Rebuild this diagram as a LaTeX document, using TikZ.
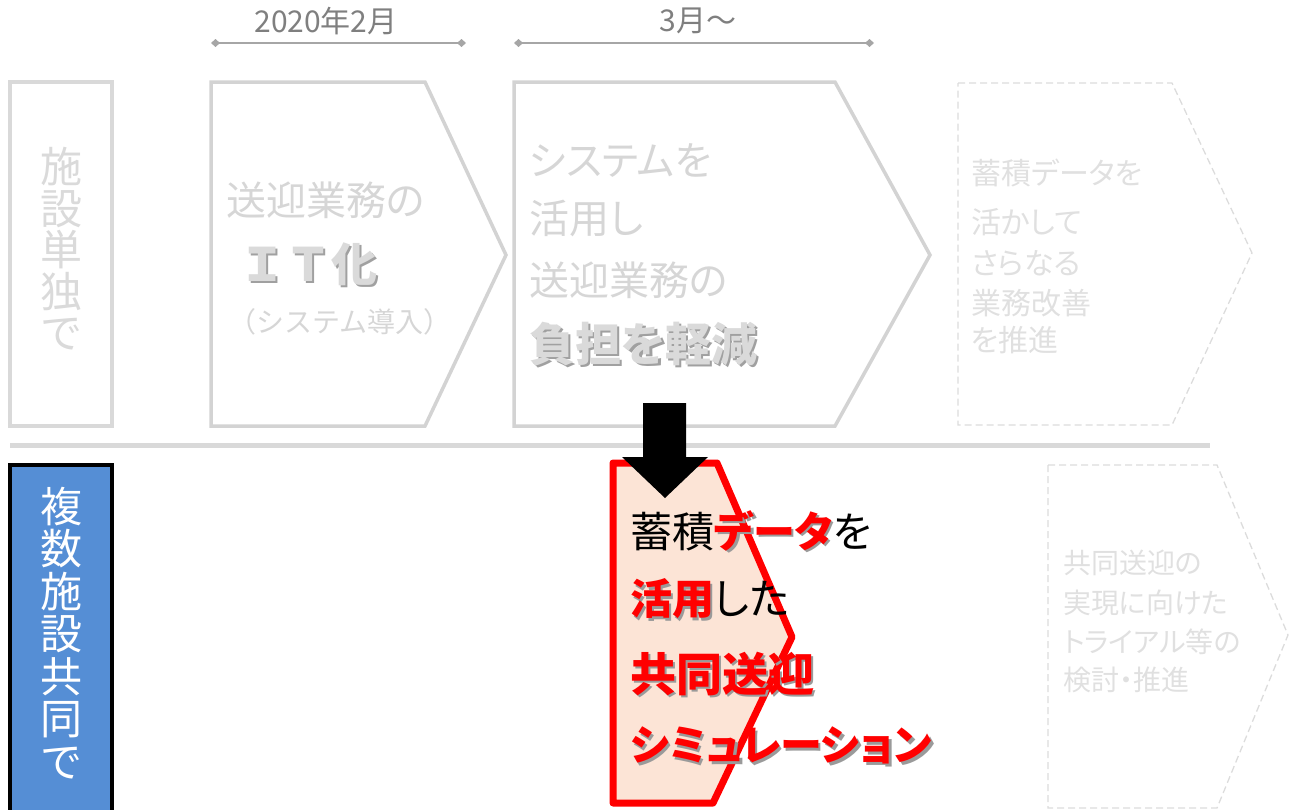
\documentclass[tikz,border=0pt]{standalone}
\usepackage{fontspec}
\setmainfont{Noto Sans CJK JP}[RawFeature=+palt]
\newfontfamily\jpmono{Noto Sans CJK JP}
\usetikzlibrary{arrows.meta}
\definecolor{shapegrey}{HTML}{D3D3D3}
\definecolor{textgrey}{HTML}{D6D6D6}
\definecolor{dashgrey}{HTML}{DCDCDC}
\definecolor{dashtext}{HTML}{E0E0E0}
\definecolor{tlgrey}{HTML}{A6A6A6}
\definecolor{tltext}{HTML}{7F7F7F}
\definecolor{boldgrey}{HTML}{DADADA}
\definecolor{boldshadow}{HTML}{A0A0A0}
\definecolor{redshade}{HTML}{9A9A9A}
\definecolor{bluebox}{HTML}{558ED5}
\definecolor{redfill}{HTML}{FCE4D6}
\definecolor{redline}{HTML}{FF0000}
\definecolor{sepgrey}{HTML}{D9D9D9}
% text with a drop shadow: #1 shadow colour, #2 text colour, #3 text
\newcommand\shadowed[3]{\makebox[0pt][l]{\hspace{2.5pt}\raisebox{-2.5pt}{\color{#1}#3}}{\color{#2}#3}}
\begin{document}
\begin{tikzpicture}[x=1pt,y=-1pt,
  greyshape/.style={draw=shapegrey, line width=3.5pt, line join=miter},
  dashshape/.style={draw=dashgrey, line width=1.3pt, dash pattern=on 7pt off 4pt},
  txt/.style={inner sep=0pt, anchor=west},
  fadetext/.style={txt, text=textgrey, font=\fontsize{40}{40}\selectfont},
  dashfont/.style={txt, text=dashtext, font=\fontsize{30}{30}\selectfont},
  boldgreytext/.style={txt, font=\fontsize{46}{46}\selectfont\bfseries},
  redtext/.style={txt, text=black, font=\fontsize{42}{42}\selectfont},
  vstack/.style={inner sep=0pt, anchor=north, align=center},
  timeline/.style={draw=tlgrey, line width=1.3pt, {Diamond[length=9pt,width=8pt]}-{Diamond[length=9pt,width=8pt]}},
  tllabel/.style={inner sep=0pt, text=tltext, font=\fontsize{30}{30}\selectfont}
]
\useasboundingbox (0,0) rectangle (1290,809);

% timelines
\coordinate (t1a) at (211,43);
\coordinate (t1b) at (466,43);
\coordinate (t2a) at (514,43);
\coordinate (t2b) at (874,43);
\draw[timeline] (t1a) -- (t1b);
\draw[timeline] (t2a) -- (t2b);
\node[tllabel] (lab1) at (326,21) {2020年2月};
\node[tllabel] (lab2) at (698,21) {3月～};

% left grey box
\draw[draw=sepgrey, line width=4pt] (10,82) rectangle (112,426);
\node[vstack, text=boldgrey, font=\fontsize{42}{41.5}\selectfont] (single) at (61,147) {施\\設\\単\\独\\で};

% pentagon 1
\draw[greyshape] (211,82) -- (425,82) -- (506,255) -- (425,426) -- (211,426) -- cycle;
\node[fadetext] (p1a) at (226,200) {送迎業務の};
\node[boldgreytext] (p1b) at (239,265) {\jpmono\shadowed{boldshadow}{boldgrey}{ＩＴ化}};
\node[txt, text=textgrey, font=\fontsize{28}{28}\selectfont] (p1c) at (228,322) {\jpmono （システム導入）};

% pentagon 2
\draw[greyshape] (514,82) -- (835,82) -- (930,255) -- (835,426) -- (514,426) -- cycle;
\node[fadetext] (p2a) at (529,160) {システムを};
\node[fadetext] (p2b) at (529,218) {活用し};
\node[fadetext] (p2c) at (529,280) {送迎業務の};
\node[boldgreytext] (p2d) at (529,345) {\shadowed{boldshadow}{boldgrey}{負担を軽減}};

% pentagon 3 (dashed)
\draw[dashshape] (958,83) -- (1172,83) -- (1252,253) -- (1172,425) -- (958,425) -- cycle;
\node[dashfont] (p3a) at (971,173) {蓄積データを};
\node[dashfont] (p3b) at (971,222) {活かして};
\node[dashfont] (p3c) at (971,263) {さらなる};
\node[dashfont] (p3d) at (971,303) {業務改善};
\node[dashfont] (p3e) at (971,340) {を推進};

% separator
\draw[draw=sepgrey, line width=5pt] (10,445) -- (1210,445);

% blue box
\draw[fill=bluebox, draw=black, line width=4pt] (10,465) rectangle (112,830);
\node[vstack, text=white, font=\fontsize{42}{42.5}\selectfont] (multi) at (61,487) {複\\数\\施\\設\\共\\同\\で};

% red pentagon
\draw[draw=redline, fill=redfill, line width=7pt, line join=round] (613,463) -- (717,463) -- (792,637) -- (713,803) -- (613,803) -- cycle;

% black arrow
\fill[black] (643,403) -- (686,403) -- (686,457) -- (708,457) -- (665,498) -- (622,457) -- (643,457) -- cycle;

% red box text
\node[redtext] (r1) at (630,532) {蓄積{\bfseries\shadowed{redshade}{redline}{データ}}を};
\node[redtext] (r2) at (630,600) {{\bfseries\shadowed{redshade}{redline}{活用}}した};
\node[redtext, font=\fontsize{46}{46}\selectfont\bfseries] (r3) at (630,675) {\shadowed{redshade}{redline}{共同送迎}};
\node[redtext, font=\fontsize{42}{42}\selectfont\bfseries] (r4) at (630,747) {\shadowed{redshade}{redline}{シミュレーション}};

% pentagon 4 (dashed)
\draw[dashshape] (1048,465) -- (1217,465) -- (1288,635) -- (1217,808) -- (1048,808) -- cycle;
\node[dashfont, font=\fontsize{28}{28}\selectfont] (p4a) at (1063,563) {共同送迎の};
\node[dashfont, font=\fontsize{28}{28}\selectfont] (p4b) at (1063,603) {実現に向けた};
\node[dashfont, font=\fontsize{28}{28}\selectfont] (p4c) at (1063,642) {トライアル等の};
\node[dashfont, font=\fontsize{28}{28}\selectfont] (p4d) at (1063,680) {検討・推進};
\end{tikzpicture}
\end{document}
